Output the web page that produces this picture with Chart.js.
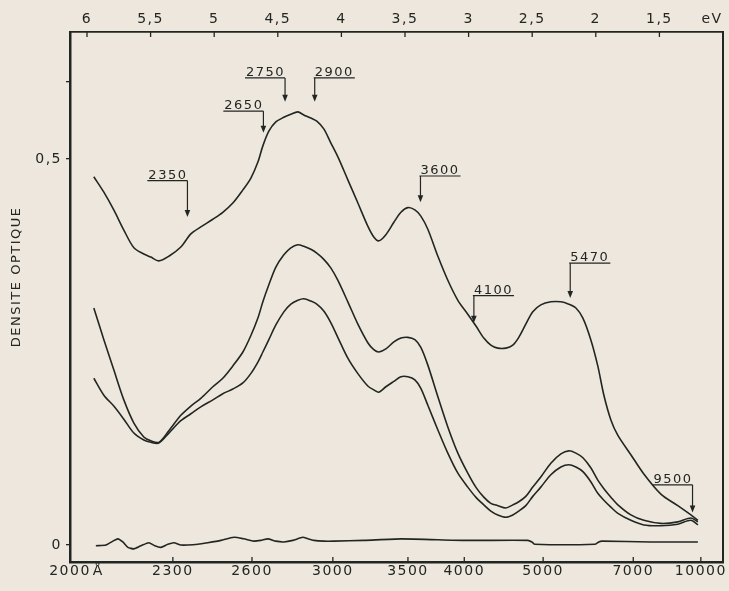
<!DOCTYPE html>
<html>
<head>
<meta charset="utf-8">
<title>Densite optique</title>
<script src="https://cdn.jsdelivr.net/npm/chart.js@4.4.1/dist/chart.umd.min.js"></script>
<style>
  html, body { margin: 0; padding: 0; background: #ede7de; }
  canvas { display: block; }
</style>
</head>
<body>
<canvas id="spectre" width="729" height="591"></canvas>
<script>
// photon energy (eV) <-> wavelength (Å)
const HC = 12398.4;

// energy grid shared by the three spectra (eV)
const energy = [6.012, 5.933, 5.855, 5.776, 5.697, 5.619, 5.564, 5.501, 5.422, 5.328,
  5.249, 5.171, 5.076, 4.998, 4.919, 4.840, 4.778, 4.722, 4.683, 4.636,
  4.581, 4.518, 4.463, 4.408, 4.361, 4.306, 4.259, 4.204, 4.149, 4.094,
  4.015, 3.936, 3.858, 3.811, 3.771, 3.716, 3.653, 3.598, 3.543, 3.488,
  3.441, 3.386, 3.307, 3.229, 3.150, 3.072, 3.009, 2.946, 2.891, 2.836,
  2.773, 2.718, 2.671, 2.616, 2.561, 2.498, 2.419, 2.340, 2.278, 2.222,
  2.167, 2.105, 2.050, 2.002, 1.947, 1.892, 1.790, 1.688, 1.554, 1.421, 1.318, 1.263];

const odTop = [0.477, 0.457, 0.434, 0.408, 0.385, 0.377, 0.373, 0.368, 0.374, 0.386,
  0.403, 0.412, 0.422, 0.431, 0.443, 0.460, 0.475, 0.496, 0.517, 0.536,
  0.548, 0.554, 0.558, 0.561, 0.557, 0.553, 0.549, 0.539, 0.521, 0.503,
  0.473, 0.443, 0.413, 0.399, 0.394, 0.402, 0.418, 0.431, 0.437, 0.434,
  0.426, 0.409, 0.374, 0.343, 0.317, 0.299, 0.284, 0.268, 0.259, 0.255,
  0.255, 0.259, 0.269, 0.286, 0.302, 0.311, 0.315, 0.315, 0.312, 0.307,
  0.294, 0.266, 0.232, 0.194, 0.162, 0.142, 0.117, 0.092, 0.066, 0.051, 0.039, 0.032];

const odMid = [0.307, 0.266, 0.227, 0.188, 0.158, 0.140, 0.135, 0.133, 0.148, 0.168,
  0.180, 0.190, 0.205, 0.216, 0.232, 0.250, 0.271, 0.294, 0.315, 0.337,
  0.360, 0.376, 0.385, 0.389, 0.387, 0.383, 0.378, 0.370, 0.359, 0.343,
  0.315, 0.286, 0.262, 0.253, 0.250, 0.254, 0.263, 0.268, 0.269, 0.266,
  0.256, 0.233, 0.192, 0.153, 0.119, 0.093, 0.075, 0.062, 0.054, 0.051,
  0.048, 0.052, 0.056, 0.063, 0.075, 0.088, 0.106, 0.118, 0.122, 0.119,
  0.113, 0.100, 0.084, 0.073, 0.062, 0.052, 0.039, 0.032, 0.028, 0.030, 0.035, 0.030];

const odLow = [0.216, 0.194, 0.180, 0.163, 0.145, 0.136, 0.133, 0.132, 0.145, 0.161,
  0.170, 0.179, 0.188, 0.196, 0.202, 0.210, 0.222, 0.237, 0.250, 0.266,
  0.285, 0.302, 0.312, 0.317, 0.319, 0.316, 0.312, 0.303, 0.288, 0.269,
  0.242, 0.222, 0.206, 0.201, 0.198, 0.205, 0.212, 0.218, 0.218, 0.214,
  0.203, 0.181, 0.149, 0.119, 0.093, 0.075, 0.062, 0.052, 0.044, 0.039,
  0.036, 0.039, 0.044, 0.051, 0.063, 0.075, 0.091, 0.101, 0.104, 0.101,
  0.095, 0.082, 0.067, 0.058, 0.049, 0.041, 0.032, 0.026, 0.025, 0.027, 0.032, 0.026];

// baseline trace near zero
const baseEnergy = [5.996, 5.917, 5.862, 5.823, 5.784, 5.744, 5.697, 5.642, 5.579, 5.532,
  5.485, 5.430, 5.383, 5.328, 5.273, 5.194, 5.116, 5.013, 4.911, 4.833,
  4.754, 4.699, 4.644, 4.581, 4.518, 4.447, 4.369, 4.329, 4.282, 4.204,
  4.125, 3.889, 3.598, 3.095, 2.600, 2.568, 2.545, 2.073, 2.042, 2.018, 1.633, 1.263];
const odBase = [-0.001, 0, 0.005, 0.008, 0.004, -0.003, -0.005, -0.001, 0.003, -0.001,
  -0.003, 0.001, 0.003, 0, 0, 0.001, 0.003, 0.006, 0.010, 0.008,
  0.005, 0.006, 0.008, 0.005, 0.004, 0.006, 0.010, 0.008, 0.006, 0.005,
  0.005, 0.006, 0.008, 0.006, 0.006, 0.004, 0.001, 0.001, 0.004, 0.005, 0.004, 0.004];

// axes
const waveTicks = [2000, 2300, 2600, 3000, 3500, 4000, 5000, 7000, 10000];
const evTicks = [6, 5.5, 5, 4.5, 4, 3.5, 3, 2.5, 2, 1.5];
const odTicks = [0, 0.5, 0.6];
const odTickLabels = ["0", "0,5", ""];

// marked wavelengths (Å), arrow tip and label height in optical density
const arrowWaves = [2350, 2650, 2750, 2900, 3600, 4100, 5470, 9500];
const arrowTipOD = [0.425, 0.534, 0.574, 0.574, 0.444, 0.288, 0.320, 0.042];
const arrowLabelOD = [0.472, 0.562, 0.605, 0.605, 0.478, 0.323, 0.365, 0.078];
const arrowSide = ["right", "right", "right", "left", "left", "left", "left", "right"];

const INK = "#222622";
const FONT = '"DejaVu Sans", sans-serif';

const pts = (xs, ys) => xs.map((x, i) => ({ x: x, y: ys[i] }));
const curve = (data, t) => ({
  data: data, borderColor: INK, borderWidth: 1.6, pointRadius: 0,
  tension: t, fill: false, xAxisID: "x", yAxisID: "y"
});

function seg(ctx, x0, y0, x1, y1) {
  ctx.beginPath(); ctx.moveTo(x0, y0); ctx.lineTo(x1, y1); ctx.stroke();
}

const decor = {
  id: "decor",
  beforeDraw(chart) {
    chart.ctx.letterSpacing = "1.5px";
  },
  afterDraw(chart) {
    const { ctx, chartArea: a, scales } = chart;
    const x = scales.x, xt = scales.xt, y = scales.y;
    ctx.save();
    ctx.strokeStyle = INK;
    ctx.fillStyle = INK;
    ctx.lineWidth = 1.3;

    // tick marks pointing into the frame
    waveTicks.forEach(w => {
      const px = x.getPixelForValue(HC / w);
      seg(ctx, px, a.bottom, px, a.bottom - 5);
    });
    evTicks.forEach(e => {
      const px = xt.getPixelForValue(e);
      seg(ctx, px, a.top, px, a.top + 5);
    });

    // Angström unit after the first wavelength
    ctx.font = "14px " + FONT;
    ctx.letterSpacing = "1.5px";
    ctx.textBaseline = "middle";
    ctx.textAlign = "left";
    const p0 = x.getPixelForValue(HC / waveTicks[0]);
    const half = ctx.measureText(String(waveTicks[0])).width / 2;
    ctx.fillText("Å", p0 + half + 2, a.bottom + 9.5);

    // labelled arrows
    ctx.font = "13px " + FONT;
    ctx.letterSpacing = "1.5px";
    ctx.textBaseline = "alphabetic";
    ctx.lineWidth = 1.2;
    arrowWaves.forEach((w, i) => {
      const px = x.getPixelForValue(HC / w);
      const tip = y.getPixelForValue(arrowTipOD[i]);
      const ul = y.getPixelForValue(arrowLabelOD[i]);
      const label = String(w);
      const tw = ctx.measureText(label).width;
      const x0 = arrowSide[i] === "right" ? px - tw - 1 : px - 1;
      const x1 = arrowSide[i] === "right" ? px : px + tw + 1;
      seg(ctx, x0, ul, x1, ul);
      ctx.fillText(label, x0 + 1, ul - 2);
      seg(ctx, px, ul, px, tip - 5);
      ctx.beginPath();
      ctx.moveTo(px - 2.8, tip - 7);
      ctx.lineTo(px + 2.8, tip - 7);
      ctx.lineTo(px, tip);
      ctx.closePath();
      ctx.fill();
    });

    // vertical axis title
    ctx.font = "13px " + FONT;
    ctx.letterSpacing = "1.5px";
    ctx.textAlign = "center";
    ctx.textBaseline = "middle";
    ctx.translate(17, a.top + (a.bottom - a.top) * 0.462);
    ctx.rotate(-Math.PI / 2);
    ctx.fillText("DENSITE OPTIQUE", 0, 0);
    ctx.restore();
  }
};

const tickFont = { family: FONT, size: 14 };

new Chart(document.getElementById("spectre"), {
  type: "line",
  data: {
    datasets: [
      curve(pts(energy, odTop), 0.3),
      curve(pts(energy, odMid), 0.3),
      curve(pts(energy, odLow), 0.3),
      curve(pts(baseEnergy, odBase), 0.2)
    ]
  },
  options: {
    responsive: false,
    animation: false,
    devicePixelRatio: 1,
    events: [],
    layout: { padding: 0 },
    plugins: { legend: { display: false }, tooltip: { enabled: false } },
    scales: {
      x: {
        type: "linear", position: "bottom", reverse: true,
        min: 1.0656, max: HC / 2000,
        afterBuildTicks: s => { s.ticks = waveTicks.map(w => ({ value: HC / w })); },
        afterFit: s => { s.height = 29; },
        ticks: {
          autoSkip: false, maxRotation: 0, padding: 1, color: INK, font: tickFont,
          callback: (v, i) => String(waveTicks[i])
        },
        grid: { display: false, drawTicks: false },
        border: { display: true, color: INK, width: 2.5 }
      },
      xt: {
        type: "linear", position: "top", reverse: true,
        min: 1.0, max: 6.1336,
        afterBuildTicks: s => {
          s.ticks = evTicks.map(e => ({ value: e })).concat([{ value: 1.086 }]);
        },
        afterFit: s => { s.height = 32; },
        ticks: {
          autoSkip: false, maxRotation: 0, padding: 4, color: INK, font: tickFont,
          callback: (v, i) => i < evTicks.length ? String(evTicks[i]).replace(".", ",") : "eV"
        },
        grid: { display: false, drawTicks: false },
        border: { display: true, color: INK, width: 1.8 }
      },
      y: {
        type: "linear", position: "left",
        min: -0.022, max: 0.6645,
        afterBuildTicks: s => { s.ticks = odTicks.map(v => ({ value: v })); },
        afterFit: s => { s.width = 70; },
        ticks: {
          padding: 4, color: INK, font: tickFont,
          callback: (v, i) => odTickLabels[i]
        },
        grid: { display: true, drawOnChartArea: false, drawTicks: true, tickLength: 4, color: INK, lineWidth: 1.3 },
        border: { display: true, color: INK, width: 2.5 }
      },
      yr: {
        type: "linear", position: "right",
        min: -0.022, max: 0.6645,
        afterFit: s => { s.width = 6; },
        ticks: { display: false },
        grid: { display: false, drawTicks: false },
        border: { display: true, color: INK, width: 2 }
      }
    }
  },
  plugins: [decor]
});
</script>
</body>
</html>
